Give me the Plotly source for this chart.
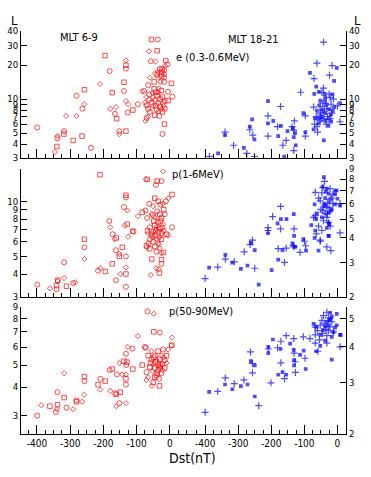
import math
import plotly.graph_objects as go

# ---------------- data ----------------
# Panel 1: e (0.3-0.6 MeV), MLT 6-9
dst_e_dawn = [
    -399, -346, -340, -339, -338, -319, -318, -312, -291, -281,
    -281, -264, -263, -257, -257, -237, -210, -195, -181, -179,
    -173, -165, -162, -160, -152, -152, -138, -138, -132, -132,
    -132, -132, -132, -127, -125, -111, -96, -83,
    -55, -36, -62, -38, -57, -43, -12, -7, -14, -23,
    -30, -35, -25, -17, -45, -38, -17, -33, -25, -17,
    -60, -47, -17, -28, 5, -65, -32, -47, -77, -52,
    -42, -62, -35, -25, -5, -50, -38, 8, -71, -22,
    -62, -45, -29, -15, -75, -55, -35, -20, -5, -70,
    -50, -42, -30, -18, -65, -40, -25, -15, -60, -35,
    -22, -70, -65, -45, -32, -73, -16, -22,
]
L_e_dawn = [
    5.6, 3.4, 3.8, 4.5, 4.7, 4.9, 5.2, 7.1, 4.3, 10.7,
    7.1, 4.7, 8.2, 9.0, 12.1, 3.7, 13.6, 24.3, 17.7, 8.2,
    11.4, 7.4, 8.5, 6.7, 5.2, 4.9, 14.1, 11.8, 22.0, 19.9,
    18.6, 9.6, 5.2, 7.6, 9.0, 8.0, 9.0, 11.7,
    33.7, 33.7, 26.5, 26.8, 21.6, 21.5, 21.9, 20.3, 19.6, 18.5,
    18.5, 17.3, 17.3, 18.0, 16.9, 16.5, 16.6, 15.5, 16.0, 15.5,
    15.5, 14.2, 14.2, 14.2, 13.8, 13.3, 12.4, 12.3, 11.8, 11.3,
    11.5, 11.0, 11.5, 11.9, 11.6, 10.4, 10.7, 10.5, 10.4, 10.4,
    9.8, 9.8, 10.0, 9.6, 9.3, 9.3, 9.2, 9.2, 9.7, 8.8,
    8.7, 8.7, 8.6, 8.7, 8.2, 8.1, 8.2, 8.2, 7.7, 7.7,
    7.7, 6.8, 7.0, 7.2, 7.1, 6.4, 6.0, 4.9,
]

# Panel 2: e (0.3-0.6 MeV), MLT 18-21
dst_e_dusk = [
    -387, -361, -340, -340, -314, -283, -274, -265, -265, -258,
    -256, -251, -251, -210, -210, -210, -210, -194, -181, -179,
    -172, -171, -165, -161, -155, -151, -137, -135, -132, -132,
    -130, -128, -132, -126, -111, -103, -97, -97, -97, -83,
    -71, -70, -72, -68, -69, -64, -62, -56, -60, -72,
    -42, -41, -42, -52, -44, -49, -52, -62, -64, -57,
    -47, -37, -52, -37, -32, -37, -25, -15, -19, -25,
    -17, -14, -22, -19, -34, -27, -24, -10, -16, -2,
    0, 8, 8, -37, -22, -32, -47, -39, -12, -57,
    -62, -42, -50, -45, -30, -20, -40, -55, -28, -10,
]
L_e_dusk = [
    3.1, 3.3, 5.1, 4.8, 3.9, 3.7, 3.3, 5.7, 5.35, 6.6,
    4.8, 4.4, 3.1, 9.6, 7.1, 6.1, 4.7, 6.4, 5.7, 4.7,
    8.6, 5.8, 3.9, 3.1, 4.3, 5.2, 5.7, 5.5, 5.3, 4.6,
    6.4, 5.0, 3.5, 3.9, 11.5, 7.5, 7.1, 5.1, 4.7, 17.1,
    15.2, 11.1, 8.5, 6.7, 6.0, 12.9, 20.8, 11.6, 5.1, 5.4,
    32.0, 4.3, 12.5, 9.7, 9.2, 8.1, 7.5, 7.9, 7.0, 6.7,
    6.7, 6.4, 6.4, 7.5, 8.2, 9.7, 11.1, 11.0, 9.0, 8.1,
    7.5, 7.9, 6.7, 6.3, 6.0, 5.8, 16.3, 14.5, 19.8, 18.9,
    8.7, 9.2, 6.3, 10.4, 10.3, 9.0, 11.5, 11.1, 10.0, 6.1,
    5.7, 7.8, 7.2, 6.9, 7.0, 7.3, 8.6, 8.8, 6.6, 8.5,
]

# Panel 3: p (1-6 MeV), MLT 6-9
dst_p1_dawn = [
    -399, -361, -341, -341, -338, -337, -318, -318, -311, -291,
    -284, -257, -257, -257, -210, -216, -209, -194, -182, -179,
    -173, -172, -166, -161, -162, -152, -152, -162, -149, -143,
    -138, -136, -132, -132, -128, -128, -132, -132, -132, -132,
    -125, -112, -109, -96, -83, -73, -72, -68, -68, -57,
    -54, -51, -41, -38, -25, -20, -25, -25, -33, -31,
    -12, -4, 7, 7, -4, -19, -64, -69,
    -45, -62, -50, -35, -28, -20, -18, -38, -55, -30,
    -15, -45, -25, -35, -20, -45, -60, -40, -30, -18,
    -50, -35, -25, -65, -55, -45, -30, -10, -60, -40,
    -25, -50, -35, -70, -45, -30, -60, -40, -25, -67,
    -42, -38, -28, -42, -32, -48, -22, -33, -52,
]
L_p1_dawn = [
    3.5, 3.34, 3.46, 3.3, 3.66, 3.7, 4.64, 3.8, 3.43, 3.57,
    3.6, 6.2, 5.6, 4.83, 14.0, 4.17, 4.3, 4.13, 7.8, 7.2,
    4.55, 6.6, 6.2, 6.3, 5.4, 5.15, 5.0, 3.7, 4.0, 5.6,
    9.3, 7.35, 10.8, 10.5, 8.9, 7.5, 5.0, 4.35, 4.0, 3.4,
    6.4, 6.85, 6.85, 8.3, 8.7, 8.9, 13.2, 13.2, 8.1, 3.95,
    4.83, 8.4, 4.3, 12.9, 12.9, 14.6, 4.8, 4.55, 4.25, 4.05,
    10.0, 10.4, 10.9, 7.2, 6.5, 5.25, 5.9, 5.6,
    10.4, 9.7, 9.4, 10.0, 9.6, 9.7, 9.0, 8.8, 8.55, 8.5,
    8.5, 8.15, 8.1, 7.66, 7.5, 7.4, 7.2, 7.0, 7.1, 6.9,
    6.85, 6.8, 6.7, 6.7, 6.6, 6.5, 6.4, 6.6, 6.2, 6.2,
    6.2, 6.0, 5.9, 5.7, 5.65, 5.55, 5.5, 5.3, 5.2, 6.9,
    12.3, 7.3, 7.8, 6.9, 6.3, 7.8, 7.2, 5.8, 6.4,
]

# Panel 4: p (1-6 MeV), MLT 18-21
dst_p1_dusk = [
    -400, -388, -362, -339, -339, -318, -312, -292, -282, -272,
    -264, -262, -257, -250, -250, -238, -210, -210, -210, -199,
    -196, -181, -179, -179, -172, -171, -172, -166, -160, -154,
    -155, -136, -134, -132, -131, -131, -131, -128, -113, -103,
    -100, -95, -96, -79, -72, -69, -67, -69, -64, -57,
    -52, -41, -39, -45, -32, -26, -20, -2, 8, 8,
    -27, -25,
    -44, -32, -22, -7, -47, -27, -14, -37, -22, 0,
    -52, -27, -14, -7, 8, -42, -32, -17, -44, -27,
    -37, -62, -67, -47, -32, -64, -42, -27, -57, -67,
    -47, -32, -22, -27, -52, -7, -57,
    -35, -25, -40, -30, -20, -50, -35, -18,
]
L_p1_dusk = [
    2.48, 2.82, 2.84, 3.28, 3.12, 2.99, 3.02, 2.78, 3.4, 2.89,
    3.7, 3.78, 3.9, 3.47, 2.8, 2.31, 4.52, 4.23, 4.37, 2.74,
    5.15, 4.75, 3.53, 3.1, 5.8, 5.0, 4.45, 3.47, 3.0, 5.0,
    3.55, 3.75, 3.66, 5.3, 4.45, 4.1, 3.6, 3.6, 3.38, 3.95,
    3.85, 3.45, 3.65, 4.65, 5.1, 5.95, 6.85, 4.0, 4.2, 3.45,
    3.85, 8.2, 7.8, 7.3, 3.6, 4.1, 3.45, 7.0, 4.25, 5.85,
    4.8, 4.7,
    7.25, 7.15, 7.15, 7.0, 6.8, 6.75, 6.7, 6.4, 6.3, 6.35,
    6.2, 6.1, 6.0, 5.95, 6.0, 5.8, 5.75, 5.6, 5.5, 5.4,
    5.35, 5.35, 5.2, 5.1, 5.1, 5.0, 4.9, 4.8, 4.6, 4.37,
    4.37, 4.5, 4.6, 4.1, 3.9, 6.7, 6.4,
    5.9, 5.7, 6.0, 5.3, 5.5, 5.6, 6.9, 6.4,
]

# Panel 5: p (50-90 MeV), MLT 6-9
dst_p50_dawn = [
    -399, -387, -361, -343, -340, -338, -338, -318, -318, -311,
    -291, -281, -281, -264, -257, -257, -258, -216, -209, -209,
    -194, -181, -179, -173, -164, -161, -161, -159, -152, -149,
    -152, -143, -138, -132, -132, -132, -132, -132, -129, -131,
    -126, -111, -112, -96, -83, -67, -48, -48, -30, 7,
    6, -72, -54, -31,
    -75, -55, -35, -20, -5, -65, -45, -25, -10, -55,
    -40, -30, -15, -50, -35, -22, -10, -60, -45, -30,
    -15, -70, -52, -38, -25, -65, -45, -32, -70, -50,
    -30, 5,
    -42, -28, -18, -48, -35, -22, -58, -40,
]
L_p50_dawn = [
    3.0, 3.33, 3.3, 3.11, 3.2, 3.35, 3.8, 4.6, 3.6, 3.25,
    3.2, 3.45, 3.5, 3.45, 4.45, 4.25, 3.7, 4.1, 4.35, 3.9,
    4.25, 4.75, 3.85, 4.8, 3.75, 3.3, 3.72, 4.55, 5.1, 3.8,
    3.4, 4.55, 5.2, 5.6, 4.55, 4.35, 4.1, 3.4, 5.15, 5.0,
    6.0, 4.8, 5.9, 6.7, 5.0, 8.6, 8.4, 7.0, 6.95, 6.6,
    6.1, 5.95, 4.05, 4.05,
    6.0, 5.75, 5.75, 5.85, 5.85, 5.5, 5.5, 5.5, 5.5, 5.3,
    5.25, 5.3, 5.25, 5.05, 5.0, 5.05, 5.1, 4.9, 4.85, 4.85,
    4.85, 4.65, 4.7, 4.6, 4.6, 4.42, 4.42, 4.35, 4.3, 4.2,
    4.9, 6.1,
    5.15, 5.0, 5.4, 5.4, 4.75, 4.75, 5.1, 4.5,
]

# Panel 6: p (50-90 MeV), MLT 18-21
dst_p50_dusk = [
    -400, -388, -362, -340, -339, -318, -312, -292, -283, -272,
    -263, -262, -257, -250, -257, -250, -238, -209, -209, -209,
    -201, -195, -181, -179, -171, -172, -171, -166, -160, -155,
    -155, -143, -132, -132, -131, -131, -128, -131, -127, -113,
    -103, -102, -98, -96, -83, -72, -67, -64, -59, -17,
    8, 10, -12, -2,
    -32, -22, -42, -17, -27, -2, -47, -32, -17, -64,
    -52, -37, -22, -7, -60, -44, -27, -12, -67, -52,
    -32, -17, -54, -37, -67, -52, -32, 8,
    -40, -25, -35, -20, -45, -28,
]
L_p50_dusk = [
    2.37, 2.79, 2.8, 2.96, 3.12, 2.85, 2.98, 2.92, 3.07, 2.96,
    3.84, 3.57, 3.5, 3.45, 3.25, 2.69, 2.5, 4.0, 3.93, 3.8,
    3.0, 4.24, 3.97, 3.2, 4.18, 3.93, 3.52, 3.27, 3.1, 3.2,
    4.37, 4.1, 4.27, 3.9, 3.8, 3.6, 3.55, 3.45, 3.26, 3.75,
    4.33, 3.88, 3.65, 3.35, 4.27, 4.8, 4.68, 3.86, 3.86, 3.61,
    4.0, 4.4, 4.5, 4.75,
    5.27, 5.25, 5.13, 5.1, 5.04, 5.2, 4.94, 4.88, 4.88, 4.69,
    4.75, 4.71, 4.69, 4.66, 4.55, 4.57, 4.55, 4.5, 4.4, 4.4,
    4.37, 4.33, 4.23, 4.2, 4.12, 4.03, 4.12, 4.4,
    4.8, 4.95, 4.6, 5.0, 4.45, 4.75,
]

# Axis ticks / ranges (L axes are logarithmic)
x_ticks = [-400, -300, -200, -100, 0]
x_tick_text = ["-400", "-300", "-200", "-100", "0"]
L_ticks_e = [3, 4, 5, 6, 7, 8, 9, 10, 20, 30, 40]
L_ticks_p1_dawn = [3, 4, 5, 6, 7, 8, 9, 10]
L_ticks_p1_dusk = [2, 3, 4, 5, 6, 7, 8, 9]
L_ticks_p50_dawn = [3, 4, 5, 6, 7, 8, 9]
L_ticks_p50_dusk = [2, 3, 4, 5]

panel_titles = ["MLT 6-9", "MLT 18-21"]
row_titles = ["e (0.3-0.6MeV)", "p(1-6MeV)", "p(50-90MeV)"]

# ---------------- layout helpers ----------------
W, H = 371, 477
FONT = "Liberation Sans Narrow, DejaVu Sans Condensed, Arial Narrow, Liberation Sans, sans-serif"


def px(x):
    return x / W


def py(y):
    return 1 - y / H


x_dom_left = [px(21), px(190)]
x_dom_right = [px(189.3), px(346)]
y_doms = [[py(155.7), py(25.7)], [py(297.7), py(167)], [py(437.7), py(308)]]

x_range_left = [-448, 61]
x_range_right = [-448, 26]
y_ranges = [
    ([3, 40], [3, 40]),
    ([3, 15], [2, 9]),
    ([2.5, 9], [2, 5.5]),
]
y_tick_sets = [
    (L_ticks_e, L_ticks_e),
    (L_ticks_p1_dawn, L_ticks_p1_dusk),
    (L_ticks_p50_dawn, L_ticks_p50_dusk),
]
series = [
    ((dst_e_dawn, L_e_dawn), (dst_e_dusk, L_e_dusk)),
    ((dst_p1_dawn, L_p1_dawn), (dst_p1_dusk, L_p1_dusk)),
    ((dst_p50_dawn, L_p50_dawn), (dst_p50_dusk, L_p50_dusk)),
]

fig = go.Figure()
layout = dict(
    width=W, height=H,
    margin=dict(l=0, r=0, t=0, b=0),
    paper_bgcolor="white", plot_bgcolor="white",
    showlegend=False, hovermode=False,
    font=dict(family=FONT, size=10, color="black"),
)

red_syms = ["circle-open", "diamond-open", "square-open"]
red_sizes = [5, 4, 4.5]
n = 0
for r in range(3):
    for c in range(2):
        n += 1
        xa = "x" if n == 1 else f"x{n}"
        ya = "y" if n == 1 else f"y{n}"
        xs, ys = series[r][c]
        if c == 0:
            marker = dict(
                symbol=[red_syms[i % 3] for i in range(len(xs))],
                size=[red_sizes[i % 3] for i in range(len(xs))],
                color="#ff0000", line=dict(color="#ff0000", width=1),
            )
        else:
            marker = dict(
                symbol=["cross-thin" if i % 2 == 0 else "square" for i in range(len(xs))],
                size=[5 if i % 2 == 0 else 2.5 for i in range(len(xs))],
                color="#0000ff", line=dict(color="#0000ff", width=1.2),
            )
        fig.add_trace(go.Scatter(x=xs, y=ys, mode="markers", marker=marker,
                                 xaxis=xa, yaxis=ya, hoverinfo="skip"))

        xkey = "xaxis" if n == 1 else f"xaxis{n}"
        ykey = "yaxis" if n == 1 else f"yaxis{n}"
        layout[xkey] = dict(
            domain=x_dom_left if c == 0 else x_dom_right,
            range=x_range_left if c == 0 else x_range_right,
            anchor=ya,
            showline=True, linecolor="black", linewidth=1,
            ticks="inside", ticklen=9, tickwidth=1, tickcolor="black",
            tickmode="array", tickvals=x_ticks, ticktext=x_tick_text,
            showticklabels=(r == 2),
            tickfont=dict(family=FONT, size=10, color="black"),
            minor=dict(ticks="inside", ticklen=4, tickcolor="black",
                       tickmode="linear", tick0=0, dtick=25, showgrid=False),
            showgrid=False, zeroline=False, fixedrange=True,
        )
        lo, hi = y_ranges[r][c]
        tv = y_tick_sets[r][c]
        layout[ykey] = dict(
            domain=y_doms[r],
            type="log",
            range=[math.log10(lo), math.log10(hi)],
            anchor=xa,
            side="left" if c == 0 else "right",
            showline=True, linecolor="black", linewidth=1,
            ticks="inside", ticklen=6, tickwidth=1, tickcolor="black",
            tickmode="array", tickvals=tv, ticktext=[str(v) for v in tv],
            tickfont=dict(family=FONT, size=9.5, color="black"),
            showgrid=False, zeroline=False, fixedrange=True,
        )

annotations = [
    dict(text="L", x=px(15), y=py(15), xanchor="center", size=13),
    dict(text="L", x=px(357), y=py(15), xanchor="center", size=13),
    dict(text=panel_titles[0], x=px(58), y=py(32), xanchor="left", size=11),
    dict(text=panel_titles[1], x=px(226), y=py(34), xanchor="left", size=11),
    dict(text=row_titles[0], x=px(174), y=py(53), xanchor="left", size=11),
    dict(text=row_titles[1], x=px(170), y=py(172), xanchor="left", size=11),
    dict(text=row_titles[2], x=px(167), y=py(313), xanchor="left", size=11),
    dict(text="Dst(nT)", x=px(167), y=py(463), xanchor="left", size=14),
]
layout["annotations"] = [
    dict(text=a["text"], x=a["x"], y=a["y"], xref="paper", yref="paper",
         xanchor=a["xanchor"], yanchor="middle", showarrow=False,
         font=dict(family=FONT, size=a["size"], color="black"))
    for a in annotations
]

fig.update_layout(**layout)
fig.write_html(
    "out.html",
    config={"displayModeBar": False, "staticPlot": True},
    post_script="document.body.style.margin='0';document.body.style.overflow='hidden';",
)
